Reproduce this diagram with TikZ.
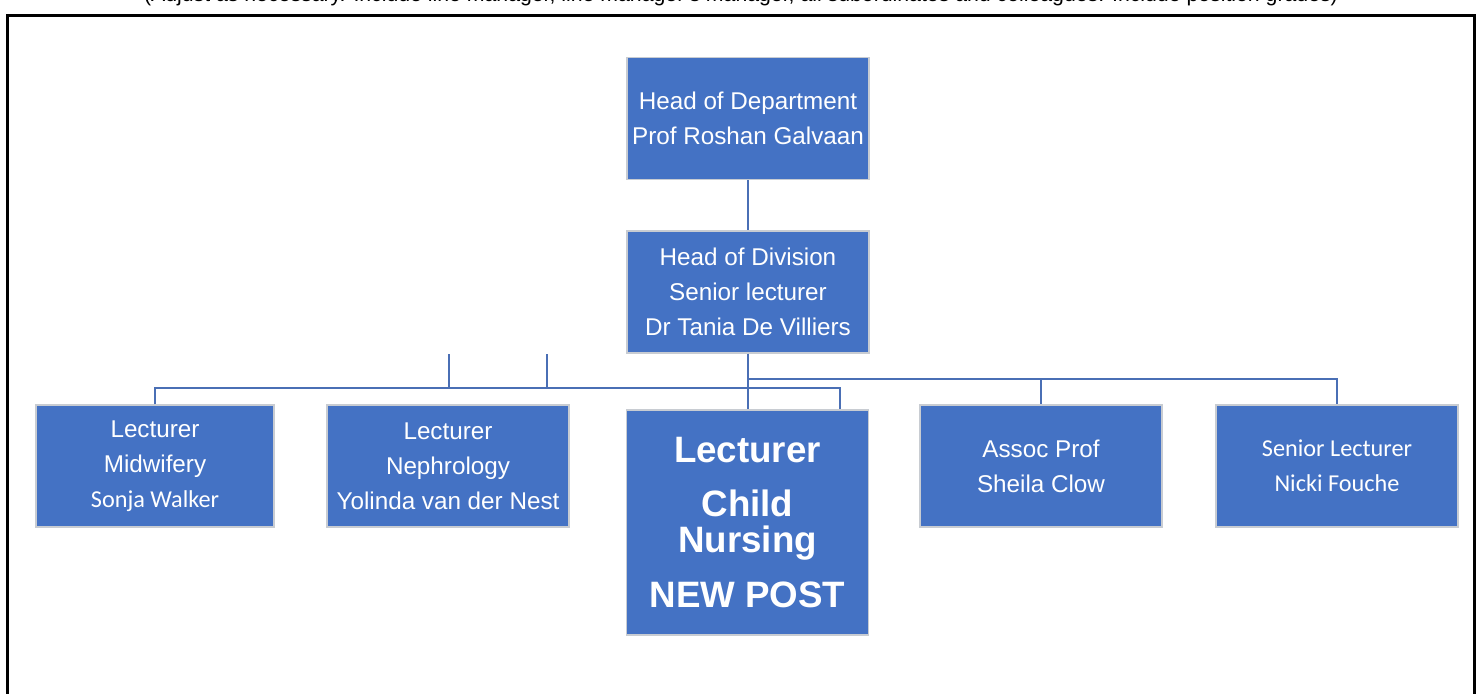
\documentclass[tikz,border=0pt]{standalone}
\usepackage{fontspec}
\setmainfont{Liberation Sans}
\newfontfamily\calfont{Carlito}
\usetikzlibrary{positioning}
\definecolor{mBlue}{HTML}{4472C4}
\definecolor{mLine}{HTML}{4A6FB5}
\definecolor{mEdge}{HTML}{C8CCD2}

\begin{document}
\begin{tikzpicture}[x=0.02cm, y=-0.02cm,
    orgbox/.style={draw=mEdge, line width=0.8pt, fill=mBlue, text=white, align=center,
      minimum width=4.84cm, minimum height=2.44cm, inner sep=0pt,
      font=\fontsize{13.8}{19.9}\selectfont},
    link/.style={draw=mLine, line width=1.6pt}]
    \useasboundingbox (0,0) rectangle (1483,693);
    \clip (0,0) rectangle (1483,693);
    % note line, cut off at the top of the page
    \node[anchor=base, inner sep=0pt, font=\fontsize{12.1}{14}\selectfont] (hint) at (741,1.5)
      {(Adjust as necessary. Include line manager, line manager's manager, all subordinates and colleagues. Include position grades)};
    \draw[line width=0.06cm] (7.5,720) -- (7.5,15.5) -- (1474.5,15.5) -- (1474.5,720);

    \node[orgbox] (hod) at (748,118.5) {Head of Department\\Prof Roshan Galvaan};
    \node[orgbox] (hodiv) at (748,292) {Head of Division\\Senior lecturer\\Dr Tania De Villiers};

    \node[orgbox, minimum width=4.76cm] (midw) at (155,466) {Lecturer\\Midwifery\\{\calfont Sonja Walker}};
    \node[orgbox] (nephro) at (448,466) {Lecturer\\Nephrology\\Yolinda van der Nest};
    \node[orgbox, minimum height=4.5cm, font=\bfseries\fontsize{20.9}{20.5}\selectfont]
      (newpost) at (747.5,522.5) {Lecturer\\[10pt]Child\\Nursing\\[11pt]NEW POST};
    \node[orgbox] (assoc) at (1041,466) {Assoc Prof\\Sheila Clow};
    \node[orgbox, font=\calfont\fontsize{13.8}{19.9}\selectfont] (senlect) at (1337,466)
      {Senior Lecturer\\Nicki Fouche};

    % connectors
    \coordinate (jL) at (748,388);
    \coordinate (jR) at (748,379);
    \coordinate (dropNP) at (840,409);
    \draw[link] (hod) -- (hodiv);
    \draw[link] (hodiv.south) -- (hodiv.south |- newpost.north);
    \draw[link] (midw.north) |- (jL) -| (dropNP);
    \draw[link] (jR) -| (assoc.north);
    \draw[link] (jR) -| (senlect.north);
    \foreach \sx in {449,547} {
      \coordinate (s\sx) at (\sx,354);
      \draw[link] (s\sx) -- (s\sx |- jL);
    }
\end{tikzpicture}
\end{document}
